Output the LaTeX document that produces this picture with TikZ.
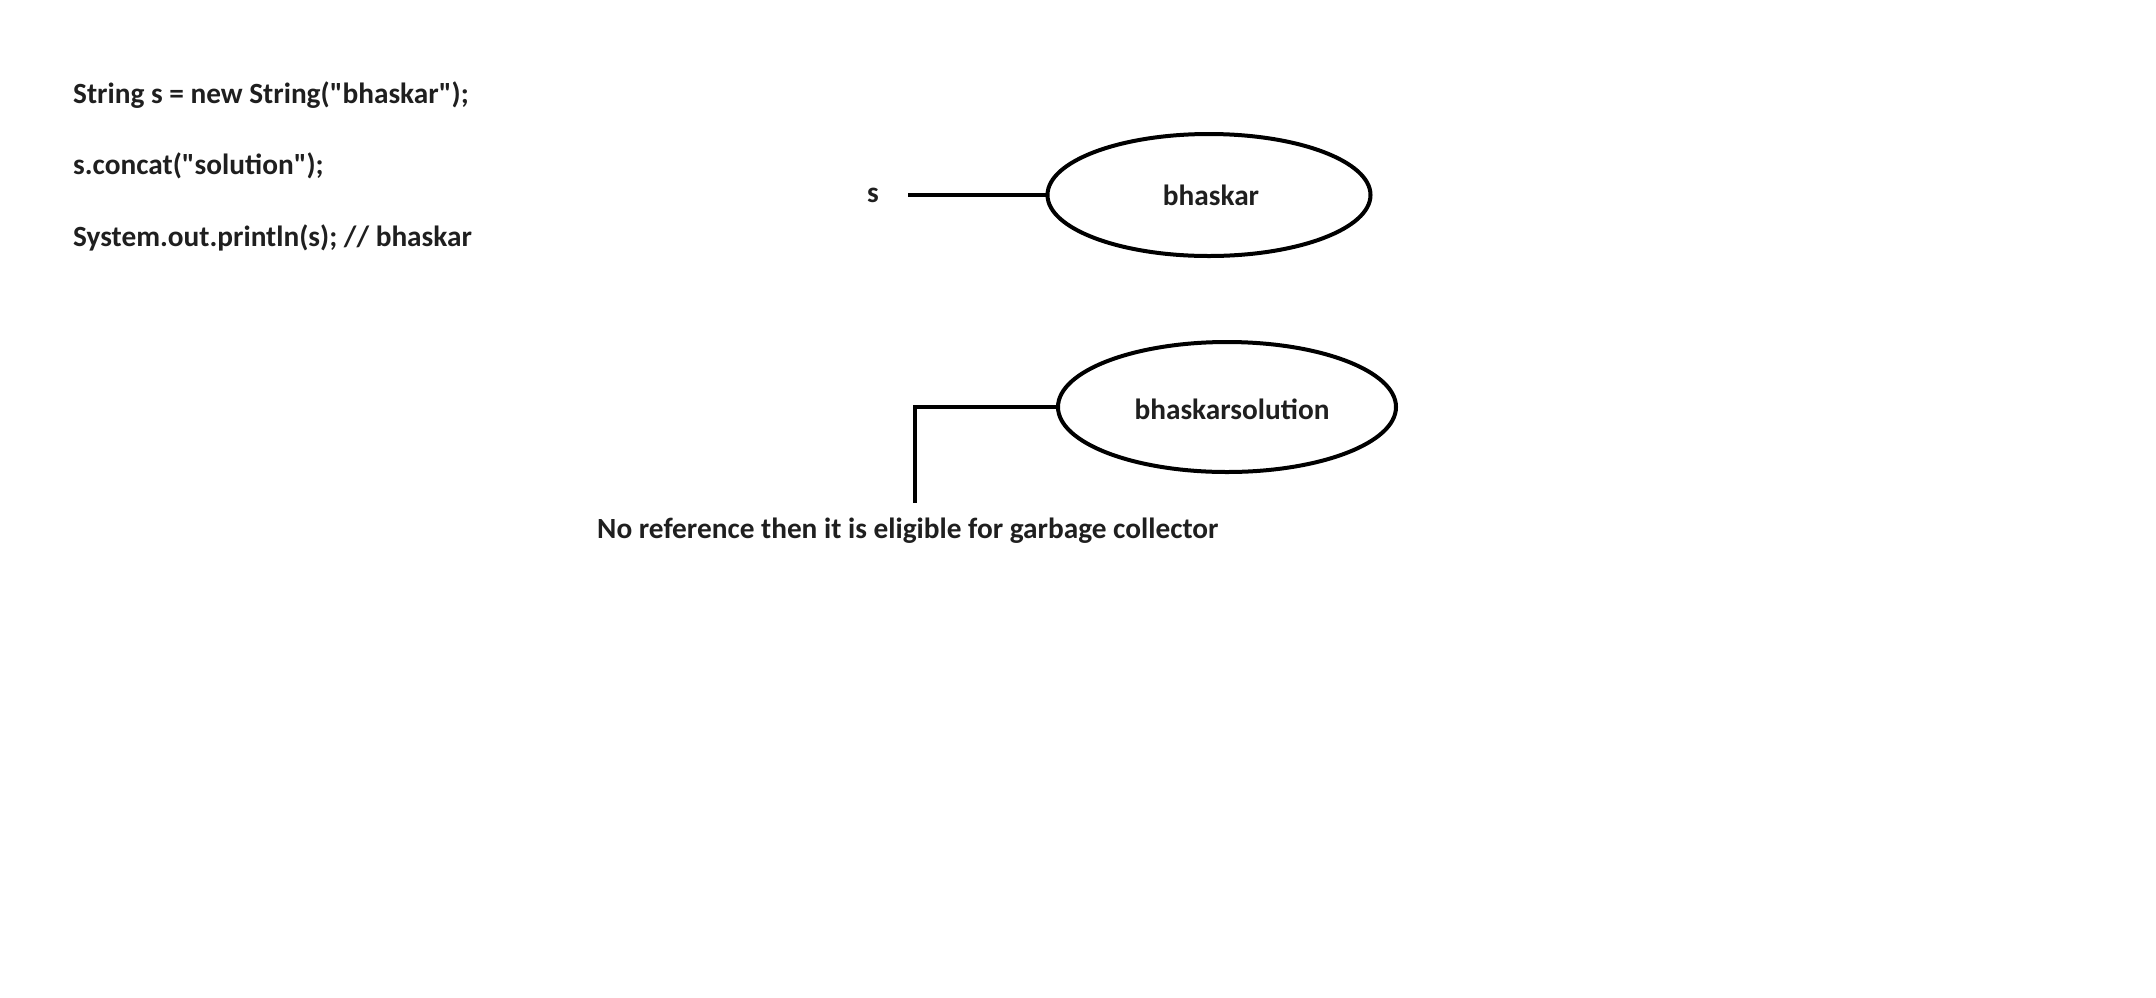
\documentclass[tikz,border=0pt]{standalone}
\usepackage{fontspec}
\setmainfont{Carlito}[Ligatures=TeXOff]
\usetikzlibrary{shapes.geometric}
\begin{document}
\begin{tikzpicture}[x=1pt,y=-1pt,
  txt/.style={text=black!88,font=\bfseries\fontsize{29.3}{35}\selectfont,inner sep=0pt},
  obj/.style={ellipse,draw=black,line width=4pt,inner sep=0pt},
  link/.style={draw=black,line width=4pt}]
\useasboundingbox (0,0) rectangle (2156,997);
\fill[white] (0,0) rectangle (2156,997);
\node[txt,anchor=west] (l1) at (73,95) {String s = new String("bhaskar");};
\node[txt,anchor=west] (l2) at (73,166) {s.concat("solution");};
\node[txt,anchor=west] (l3) at (73,238) {System.out.println(s); // bhaskar};
\node[txt] (s) at (873,195) {s};
\node[obj,minimum width=323pt,minimum height=122pt] (e1) at (1209,195) {};
\node[txt] (t1) at (1211,195) {bhaskar};
\node[obj,minimum width=338pt,minimum height=130pt] (e2) at (1227,407) {};
\node[txt] (t2) at (1232,409) {bhaskarsolution};
\coordinate (c1) at (908,195);
\coordinate (c2) at (915,503);
\draw[link] (c1) -- (e1.west);
\draw[link] (e2.west) -| (c2);
\node[txt,anchor=west] (gc) at (597,531) {No reference then it is eligible for garbage collector};
\end{tikzpicture}
\end{document}
